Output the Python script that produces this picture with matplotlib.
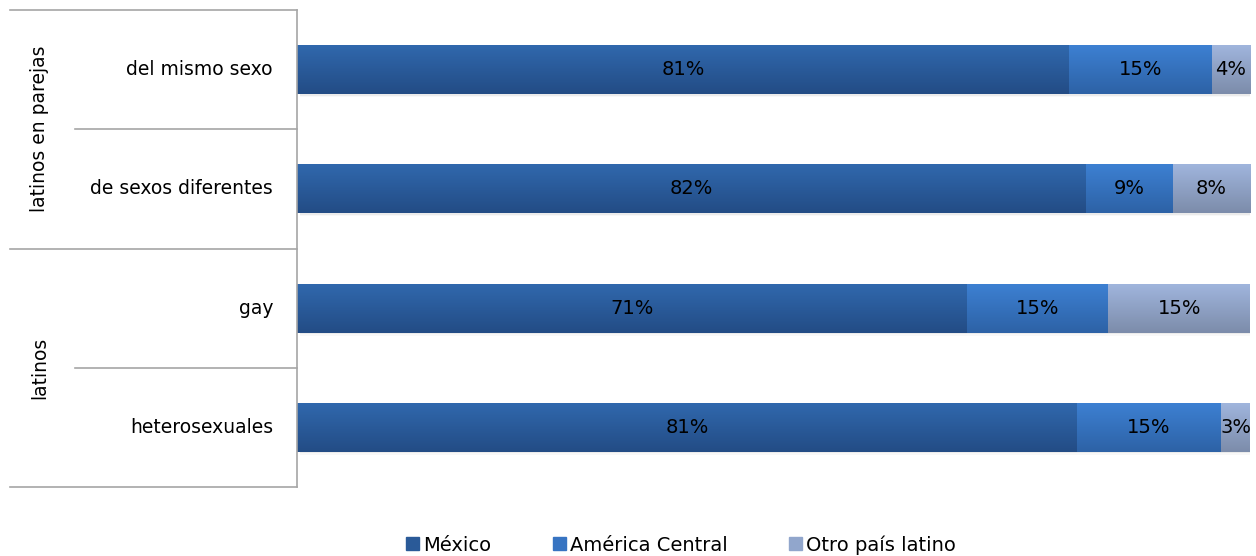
import numpy as np
import matplotlib
matplotlib.use("Agg")
import matplotlib.pyplot as plt
from matplotlib.patches import Rectangle
from matplotlib.lines import Line2D
from matplotlib.colors import to_rgb

# ---- data -------------------------------------------------------------------
categories = ["del mismo sexo", "de sexos diferentes", "gay", "heterosexuales"]
groups = ["latinos en parejas", "latinos"]
series = ["México", "América Central", "Otro país latino"]
mexico = [81, 82, 71, 81]
america_central = [15, 9, 15, 15]
otro = [4, 8, 15, 3]

# top / bottom gradient colours, Excel-like
grad = [("#3068AD", "#234C85"),
        ("#3D80D2", "#2D62A6"),
        ("#A0B5DD", "#7C8CAA")]
solid = ["#2A5A98", "#3774C2", "#91A6CC"]

W, H = 1256, 556
fig = plt.figure(figsize=(W / 100, H / 100), dpi=100)
plt.rcParams["font.family"] = "DejaVu Sans"

L, R, T, B = 297, 1250, 10, 487
ax = fig.add_axes([L / W, 1 - B / H, (R - L) / W, (B - T) / H])
ax.set_xlim(0, 1)
ax.set_ylim(-0.5, 3.5)
ax.axis("off")

vals = np.array([mexico, america_central, otro], dtype=float)
frac = vals / vals.sum(axis=0)   # Excel 100% stacked normalises each row
ypos = [3, 2, 1, 0]
bh = 0.41


def vgrad(c_top, c_bot, n=64):
    a, b = np.array(to_rgb(c_top)), np.array(to_rgb(c_bot))
    t = np.linspace(0, 1, n)[:, None]
    return (a * (1 - t) + b * t)[:, None, :]


for i, y in enumerate(ypos):
    # soft shadow under the whole bar
    for k, al in [(0.012, 0.10), (0.025, 0.06)]:
        ax.add_patch(Rectangle((0.003, y - bh / 2 - k), 1.0, bh, color="#888888",
                               alpha=al, lw=0, zorder=1))
    left = 0.0
    for s in range(3):
        w = frac[s, i]
        ax.imshow(vgrad(*grad[s]), extent=(left, left + w, y - bh / 2, y + bh / 2),
                  aspect="auto", zorder=2, interpolation="bilinear")
        ax.text(left + w / 2, y, f"{int(vals[s, i])}%", ha="center", va="center",
                fontsize=14, color="black", zorder=3)
        left += w
ax.set_xlim(0, 1)
ax.set_ylim(-0.5, 3.5)

# ---- left hand category table -------------------------------------------------
gc = "#A6A6A6"
def hline(y, x0, x1):
    fig.add_artist(Line2D([x0 / W, x1 / W], [1 - y / H, 1 - y / H], color=gc, lw=1.2))

band = (B - T) / 4
hline(T, 10, L)
hline(T + band, 75, L)
hline(T + 2 * band, 10, L)
hline(T + 3 * band, 75, L)
hline(B, 10, L)
fig.add_artist(Line2D([L / W, L / W], [1 - T / H, 1 - B / H], color=gc, lw=1.2))

for i, cat in enumerate(categories):
    yc = T + band * (i + 0.5)
    fig.text(273 / W, 1 - yc / H, cat, ha="right", va="center", fontsize=13.5)

for g, name in enumerate(groups):
    yc = T + band * (2 * g + 1)
    fig.text(40 / W, 1 - yc / H, name, ha="center", va="center", rotation=90,
             fontsize=13.5)

# ---- legend -----------------------------------------------------------------------
handles = [Rectangle((0, 0), 1, 1, color=c) for c in solid]
fig.legend(handles, series, loc="center", bbox_to_anchor=(681 / W, 1 - 545 / H),
           ncol=3, frameon=False, fontsize=14, handlelength=0.65, handleheight=0.65,
           handletextpad=0.2, columnspacing=3.2)

fig.savefig("out.png", dpi=100)
